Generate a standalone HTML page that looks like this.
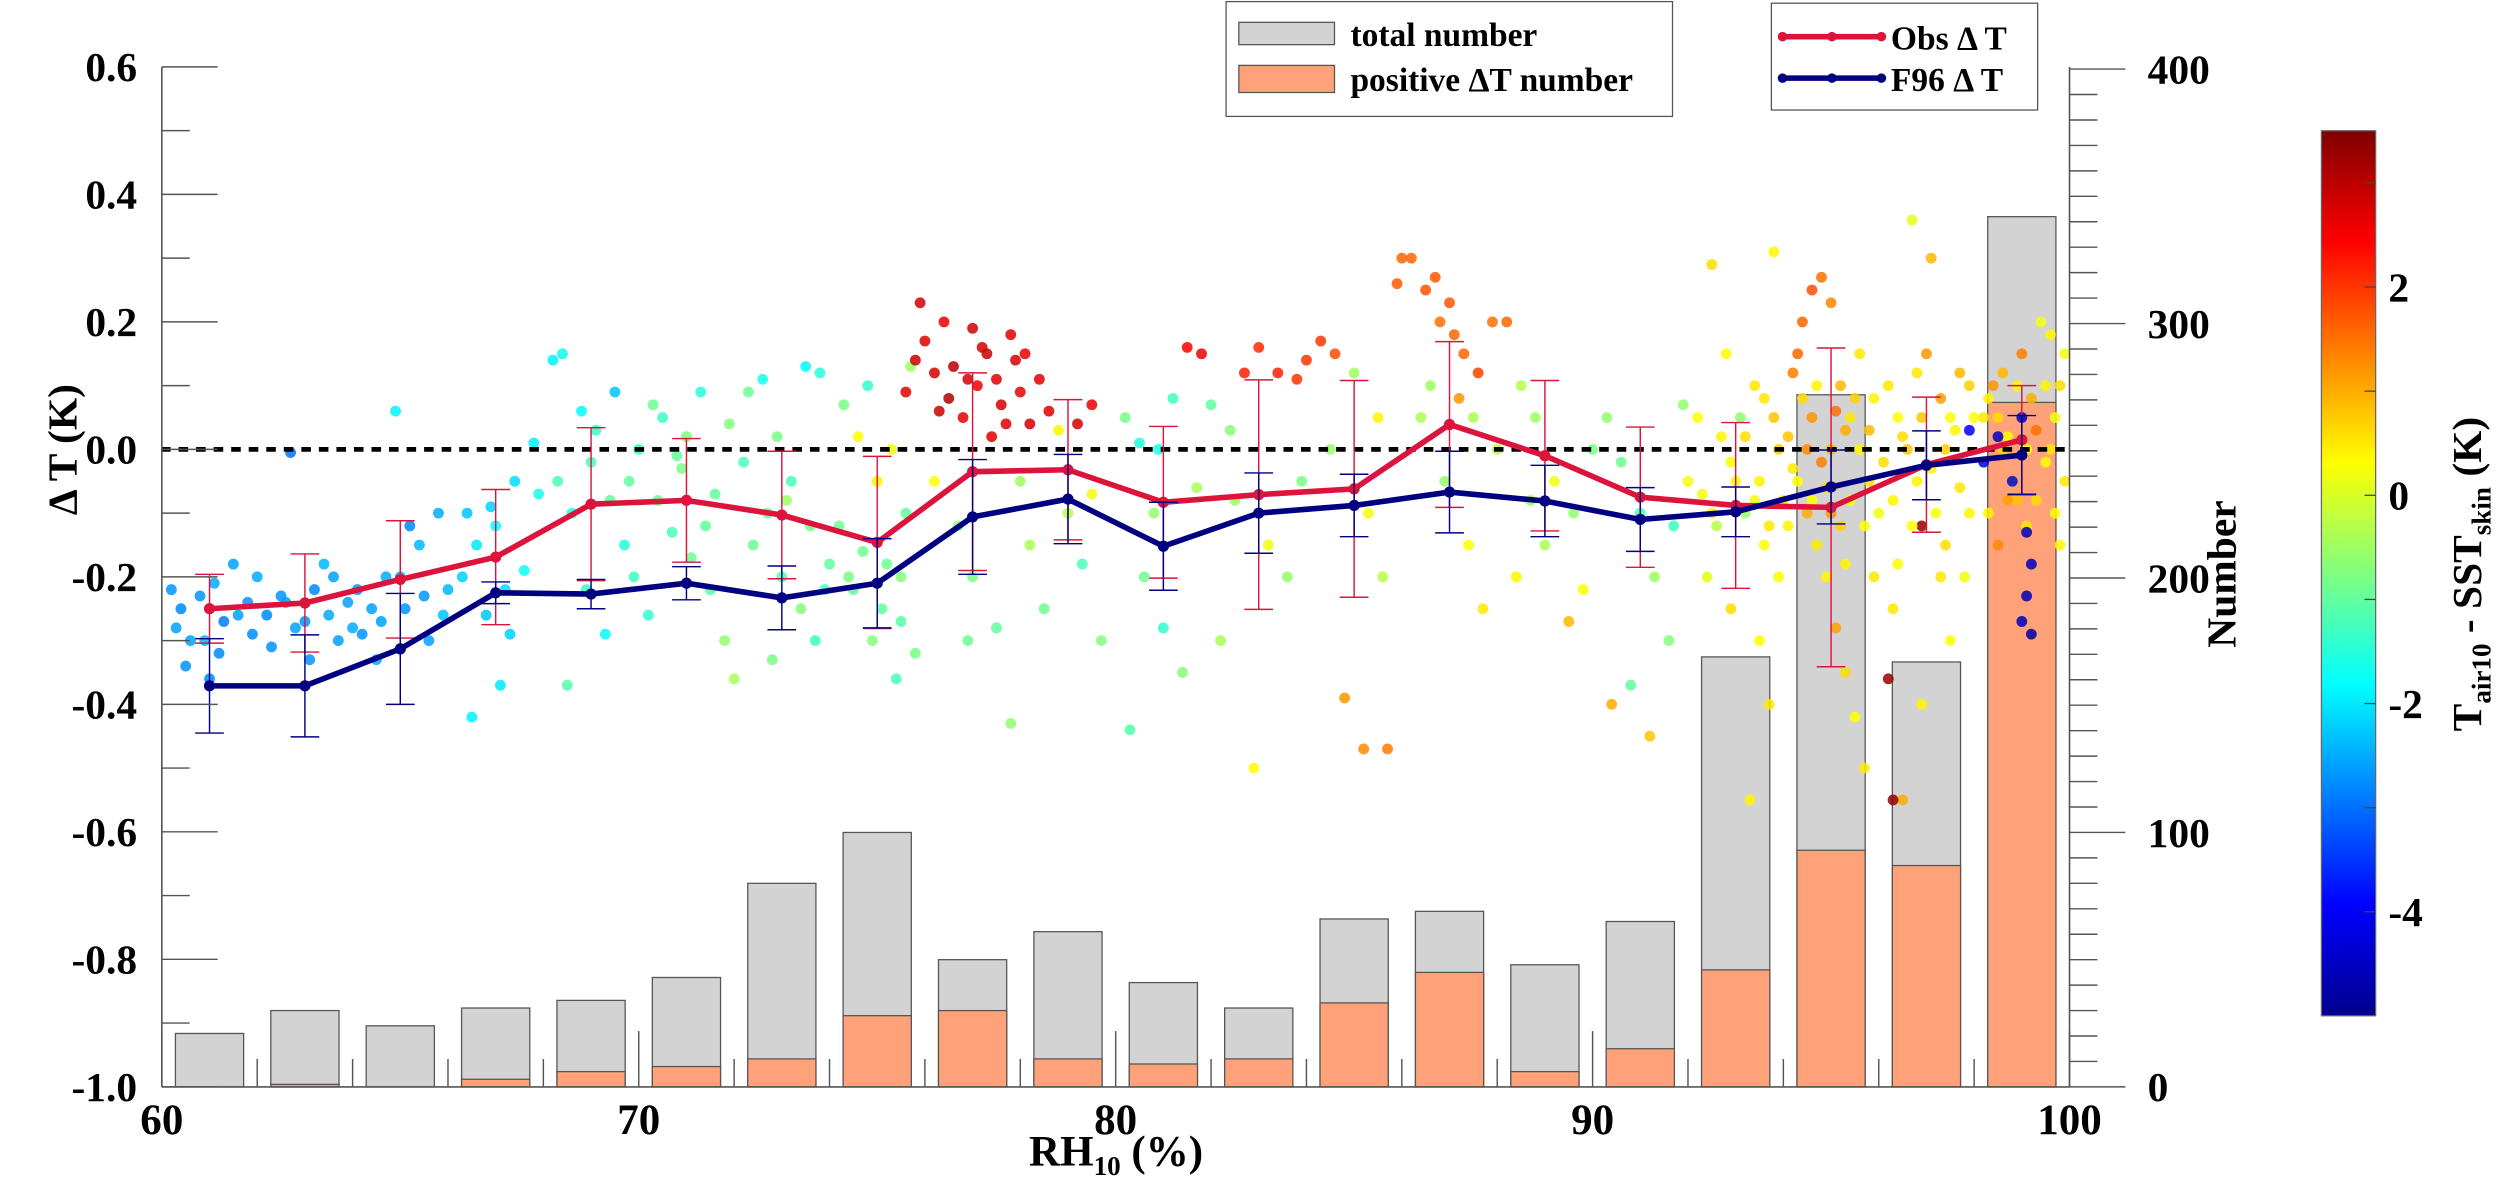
<!DOCTYPE html>
<html><head><meta charset="utf-8"><style>
html,body{margin:0;padding:0;background:#fff;}
svg{display:block;}
text{font-family:"Liberation Serif",serif;font-weight:bold;fill:#000;}
</style></head><body>
<svg id="chart" width="2500" height="1188" viewBox="0 0 1568 745" preserveAspectRatio="none" xmlns="http://www.w3.org/2000/svg">
<defs>
<linearGradient id="jet" x1="0" y1="1" x2="0" y2="0">
<stop offset="0" stop-color="#00008f"/><stop offset="0.125" stop-color="#0000ff"/><stop offset="0.375" stop-color="#00ffff"/><stop offset="0.625" stop-color="#ffff00"/><stop offset="0.875" stop-color="#ff0000"/><stop offset="1" stop-color="#800000"/>
</linearGradient>
</defs>
<g id="bars"></g>
<g id="scatter"></g>
<line x1="101" y1="281.8" x2="1298" y2="281.8" stroke="#000" stroke-width="3" stroke-dasharray="6,5"/>
<g id="lines"></g>
<g id="axes"></g>
<g>
<rect x="769" y="1" width="280" height="72" fill="#fff" stroke="#555" stroke-width="0.8"/>
<rect x="777" y="14" width="60" height="14" fill="#d3d3d3" stroke="#555" stroke-width="0.8"/>
<text x="847" y="29" font-size="21">total number</text>
<rect x="777" y="41" width="60" height="17" fill="#ffa27a" stroke="#555" stroke-width="0.8"/>
<text x="847" y="57" font-size="21">positive ΔT number</text>
</g>
<g>
<rect x="1111" y="2" width="167" height="67" fill="#fff" stroke="#555" stroke-width="0.8"/>
<line x1="1117" y1="23" x2="1180" y2="23" stroke="#dc143c" stroke-width="3.5"/>
<circle cx="1118" cy="23" r="3" fill="#dc143c"/><circle cx="1149" cy="23" r="3" fill="#dc143c"/><circle cx="1180" cy="23" r="3" fill="#dc143c"/>
<text x="1186" y="31" font-size="21">Obs Δ T</text>
<line x1="1117" y1="49" x2="1180" y2="49" stroke="#000080" stroke-width="3.5"/>
<circle cx="1118" cy="49" r="3" fill="#000080"/><circle cx="1149" cy="49" r="3" fill="#000080"/><circle cx="1180" cy="49" r="3" fill="#000080"/>
<text x="1186" y="57" font-size="21">F96 Δ T</text>
</g>
<g id="colorbar">
<rect x="1456" y="82" width="34" height="555" fill="url(#jet)" stroke="#666" stroke-width="0.8"/>
</g>
<text transform="translate(1556,360) rotate(-90)" text-anchor="middle" font-size="26">T<tspan font-size="17" dy="6">air10</tspan><tspan dy="-6"> - SST</tspan><tspan font-size="17" dy="6">skin</tspan><tspan dy="-6"> (K)</tspan></text>
<text transform="translate(48,282) rotate(-90)" text-anchor="middle" font-size="26">Δ T (K)</text>
<text transform="translate(1402,360) rotate(-90)" text-anchor="middle" font-size="26">Number</text>
<text x="700" y="731" text-anchor="middle" font-size="27">RH<tspan font-size="17" dy="6">10</tspan><tspan dy="-6"> (%)</tspan></text>
</svg>
<script>
const binRH=[61,63,65,67,69,71,73,75,77,79,81,83,85,87,89,91,93,95,97,99];
const totalCount=[21,30,24,31,34,43,80,100,50,61,41,31,66,69,48,65,169,272,167,342];
const positiveCount=[0,1,0,3,6,8,11,28,30,11,9,11,33,45,6,15,46,93,87,269];
const obsDT=[-0.250,-0.241,-0.204,-0.169,-0.086,-0.080,-0.103,-0.146,-0.035,-0.032,-0.083,-0.071,-0.062,0.039,-0.010,-0.075,-0.088,-0.091,-0.024,0.015];
const obsErr=[0.054,0.077,0.092,0.106,0.12,0.097,0.10,0.135,0.155,0.11,0.119,0.18,0.17,0.13,0.118,0.11,0.13,0.25,0.106,0.085];
const f96DT=[-0.371,-0.371,-0.313,-0.225,-0.227,-0.210,-0.233,-0.210,-0.106,-0.078,-0.152,-0.100,-0.088,-0.067,-0.081,-0.110,-0.098,-0.059,-0.025,-0.009];
const f96Err=[0.074,0.08,0.087,0.017,0.023,0.026,0.05,0.07,0.09,0.07,0.069,0.063,0.049,0.064,0.056,0.05,0.039,0.058,0.054,0.062];
const yTicks=[0.6,0.4,0.2,0.0,-0.2,-0.4,-0.6,-0.8,-1.0];
const yTickLabels=["0.6","0.4","0.2","0.0","-0.2","-0.4","-0.6","-0.8","-1.0"];
const y2Ticks=[0,100,200,300,400];
const xTicks=[60,70,80,90,100];
const cbTicks=[2,0,-2,-4];
const scatterPts=[
[60.2,-0.22,-2.7],[60.4,-0.25,-2.8],[60.6,-0.3,-2.6],[60.5,-0.34,-2.7],[61.3,-0.27,-2.9],[61.6,-0.26,-2.6],[61.8,-0.24,-2.7],[62,-0.2,-2.5],[61.2,-0.32,-2.8],[60.9,-0.3,-2.4],[61.5,-0.18,-2.6],[61,-0.36,-2.8],
[60.3,-0.28,-2.6],[60.8,-0.23,-2.7],[61.1,-0.21,-2.5],[61.9,-0.29,-2.8],
[62.5,-0.23,-2.7],[62.8,-0.28,-2.6],[63.2,-0.22,-2.8],[63.5,-0.26,-2.5],[63.7,-0.3,-2.6],[62.3,-0.31,-2.7],[63.4,-0.18,-2.4],[63.9,-0.24,-2.6],[62.7,-0.005,-3.0],[63.1,-0.33,-2.7],[64,-0.28,-2.5],[62.2,-0.26,-2.8],
[62.6,-0.24,-2.6],[63.0,-0.27,-2.7],[63.6,-0.2,-2.6],[64.1,-0.22,-2.7],
[64.4,-0.25,-2.6],[64.7,-0.2,-2.5],[65.1,-0.25,-2.7],[65.4,-0.15,-2.4],[65.8,-0.1,-2.5],[64.9,0.06,-1.9],[65.6,-0.3,-2.6],[64.2,-0.29,-2.7],[66,-0.22,-2.4],[65.2,-0.12,-2.8],[64.5,-0.33,-2.5],[65.9,-0.26,-2.3],
[64.6,-0.27,-2.6],[65.0,-0.2,-2.5],[65.5,-0.23,-2.7],
[66.3,-0.2,-2.2],[66.6,-0.15,-2.0],[67,-0.12,-1.8],[67.4,-0.05,-2.1],[67.8,0.01,-1.9],[66.8,-0.26,-2.3],[67.3,-0.29,-2.2],[67.6,-0.19,-1.7],[66.5,-0.42,-1.9],[67.1,-0.37,-2.0],[67.9,-0.07,-1.6],[66.9,-0.09,-2.2],
[66.4,-0.1,-2.3],[67.2,-0.22,-2.1],
[68.2,0.14,-1.9],[68.4,0.15,-1.7],[68.8,0.06,-1.8],[69.1,0.03,-1.4],[69.5,0.09,-2.3],[68.6,-0.1,-1.6],[69,-0.02,-1.2],[69.7,-0.15,-1.5],[68.9,-0.22,-1.3],[69.3,-0.29,-1.8],[68.5,-0.37,-1.1],[69.8,-0.05,-1.0],[70,0.0,-1.4],
[68.3,-0.05,-1.2],[69.4,-0.08,-1.0],[69.9,-0.2,-1.3],
[70.3,0.07,-0.9],[70.5,0.05,-1.3],[70.9,-0.03,-0.8],[71.3,0.09,-1.5],[71.6,-0.07,-1.0],[71.9,0.04,-0.7],[70.7,-0.13,-1.2],[71.1,-0.17,-0.9],[71.5,-0.22,-1.1],[70.2,-0.26,-1.4],[71.8,-0.3,-0.6],[72,-0.36,-0.4],[70.8,-0.01,-1.0],
[70.4,-0.08,-0.9],[71.4,-0.12,-1.0],[71.0,0.02,-0.8],
[72.3,0.09,-0.9],[72.6,0.11,-1.6],[72.9,0.02,-0.8],[73.2,-0.05,-1.2],[73.5,0.13,-1.8],[73.8,0.12,-1.5],[72.4,-0.15,-0.9],[73,-0.2,-1.1],[73.4,-0.25,-0.7],[73.7,-0.3,-1.3],[72.8,-0.33,-0.8],[74,-0.18,-1.0],[73.1,-0.08,-0.5],[72.2,-0.02,-1.2],
[72.7,-0.1,-1.0],[73.6,-0.12,-0.9],[73.9,-0.22,-1.2],
[74.3,0.07,-0.8],[74.6,0.02,0.3],[75,-0.05,0.4],[75.2,-0.18,-0.9],[75.5,-0.27,-1.1],[75.8,-0.32,-0.8],[74.5,-0.22,-1.0],[74.9,-0.3,-0.7],[75.4,-0.36,-1.2],[75.7,0.13,-0.5],[74.8,0.1,-1.4],[75.9,0.23,2.8],[75.3,0.0,0.2],[74.2,-0.12,-0.9],[75.6,-0.1,-1.0],
[74.4,-0.2,-0.8],[75.1,-0.25,-1.0],[75.5,-0.2,-0.7],[74.7,-0.16,-0.9],
[75.6,0.09,2.7],[75.8,0.14,2.9],[76.0,0.17,2.7],[76.2,0.12,2.8],[76.4,0.2,2.6],[76.6,0.13,3.0],[76.8,0.05,2.7],[77.0,0.19,2.8],[77.1,0.1,2.6],[77.3,0.15,2.9],[77.5,0.11,2.7],[77.6,0.07,2.8],[77.8,0.18,2.7],[78.0,0.09,2.6],[78.2,0.04,2.8],[77.4,0.02,2.7],[76.5,0.08,3.1],[77.9,0.14,2.8],[78.6,0.06,2.7],[79.2,0.04,2.8],[79.5,0.07,2.6],[76.3,0.06,2.9],[77.2,0.16,2.8],[78.4,0.11,2.7],
[76.9,0.11,2.8],[77.7,0.04,2.7],[78.1,0.15,2.6],
[76.2,-0.05,0.3],[76.7,-0.12,-0.6],[77,-0.2,-0.8],[77.5,-0.28,-1.0],[77.8,-0.43,-0.6],[78.2,-0.15,-0.4],[78.5,-0.25,-0.9],[79,-0.1,-0.3],[79.3,-0.18,-1.2],[79.7,-0.3,-0.7],[78.8,0.03,0.4],[76.9,-0.3,-0.9],[78,-0.05,-0.5],[79.5,-0.07,0.2],
[80.2,0.05,-0.8],[80.5,0.01,-1.5],[80.8,-0.1,-0.6],[81.2,0.08,-1.3],[81.5,0.16,2.5],[81.8,0.15,2.6],[80.6,-0.2,-0.9],[81,-0.28,-1.4],[81.4,-0.35,-0.7],[80.3,-0.44,-1.1],[81.7,-0.06,-0.4],[82,0.07,-1.0],[80.9,0.0,-1.6],
[82.4,0.03,-0.7],[82.7,0.12,2.2],[83,0.16,2.1],[83.4,0.12,2.2],[83.8,0.11,2.0],[82.5,-0.08,-0.5],[83.2,-0.15,0.2],[83.6,-0.2,-0.6],[82.9,-0.5,0.3],[83.9,-0.05,-0.8],[84,0.14,2.0],[82.2,-0.3,-0.4],
[84.3,0.17,2.0],[84.6,0.15,1.8],[85,0.12,-0.5],[85.3,-0.1,0.2],[85.6,-0.2,-0.3],[85.9,0.26,1.7],[84.8,-0.39,1.2],[85.2,-0.47,1.3],[85.7,-0.47,1.4],[84.5,0.0,-0.6],[85.5,0.05,0.4],[86,0.3,1.6],
[86.2,0.3,1.6],[86.5,0.25,1.8],[86.8,0.2,1.5],[87,0.23,1.7],[87.3,0.15,1.6],[87.6,0.12,1.9],[87.9,0.2,1.5],[86.4,0.05,-0.4],[86.9,-0.05,-0.6],[87.4,-0.15,0.3],[87.7,-0.25,0.5],[88,0.0,-0.3],[86.6,0.1,-0.5],[87.2,0.08,1.2],
[86.7,0.27,1.7],[87.1,0.18,1.6],[87.5,0.05,-0.4],
[88.2,0.2,1.6],[88.5,0.1,-0.3],[88.8,0.05,-0.5],[89.2,-0.05,0.2],[89.6,-0.1,-0.6],[88.4,-0.2,0.4],[89,-0.15,-0.4],[89.5,-0.27,0.9],[89.8,-0.22,0.3],[90,0.0,-0.8],[88.7,-0.08,-0.5],
[90.3,0.05,-0.6],[90.6,-0.02,-0.9],[91,-0.1,-1.2],[91.3,-0.2,-0.5],[91.6,-0.3,-0.7],[91.9,0.07,-0.6],[90.8,-0.37,-1.0],[91.2,-0.45,0.8],[90.4,-0.4,1.0],[91.7,-0.12,-1.3],[92,-0.05,0.2],
[92.2,0.05,0.3],[92.5,0.29,0.6],[92.7,0.02,0.4],[93,-0.05,0.2],[93.2,-0.1,-0.5],[93.4,0.1,0.5],[93.6,-0.15,0.3],[93.8,0.31,0.4],[92.4,-0.2,0.1],[92.9,-0.25,0.6],[93.5,-0.3,0.3],[93.7,-0.4,0.5],[92.6,-0.12,-0.3],[93.9,0.0,0.7],[92.8,0.15,0.3],[93.3,-0.55,0.4],[93.1,0.05,-0.6],[92.3,-0.07,0.2],[93.6,0.08,0.5],[94,-0.08,0.4],
[92.5,-0.1,0.4],[92.9,-0.02,0.3],[93.2,0.02,0.6],[93.4,-0.08,0.2],[93.7,-0.12,0.5],[93.9,-0.2,0.3],[93.8,0.05,0.8],[93.5,-0.05,0.4],
[94.2,0.12,1.4],[94.4,0.2,1.6],[94.6,0.25,1.8],[94.8,0.27,1.5],[95,0.23,1.3],[95.2,0.1,0.9],[95.4,0.05,0.5],[95.6,0.0,0.4],[95.8,-0.05,0.6],[94.3,-0.05,0.3],[94.5,-0.1,1.0],[94.7,-0.15,0.5],[94.9,-0.2,0.4],[95.1,-0.28,1.1],[95.3,-0.35,0.6],[95.5,-0.42,0.3],[95.7,-0.5,0.5],[94.1,0.02,0.8],[94.6,0.05,1.2],[95,0.0,0.9],[95.4,-0.08,0.3],[95.9,0.08,0.4],[94.8,-0.02,1.4],[95.2,-0.12,0.7],[96,-0.1,0.2],[95.6,0.15,0.5],[94.4,0.08,0.6],[95.3,0.03,1.0],
[94.2,-0.03,0.5],[94.5,0.0,1.3],[94.7,0.1,0.4],[94.9,-0.06,0.6],[95.1,0.06,1.5],[95.3,-0.18,0.4],[95.5,0.08,0.7],[95.7,-0.12,0.3],[95.9,-0.2,0.5],[94.3,0.15,1.6],[94.6,-0.08,0.3],[95.0,-0.1,1.2],[95.8,0.03,0.9],[94.1,-0.12,0.4],
[96.2,0.1,0.5],[96.4,0.05,0.3],[96.6,0.0,0.8],[96.8,-0.05,0.4],[97,0.15,1.2],[97.2,-0.1,0.3],[97.4,-0.15,0.6],[97.6,0.03,0.4],[97.8,-0.2,0.2],[96.3,-0.25,0.5],[96.5,-0.55,1.0],[96.7,0.36,0.1],[97.1,0.3,0.9],[97.5,-0.3,0.3],[97.9,0.1,0.7],[96.9,-0.4,0.4],[96.1,-0.02,0.6],[97.3,0.08,1.1],[97.7,-0.06,0.5],[98,0.05,0.3],[96.2,-0.36,3.3],[96.3,-0.55,3.3],[96.9,-0.12,3.3],
[96.3,-0.08,0.4],[96.5,0.02,0.6],[96.7,-0.12,0.3],[96.9,0.05,0.8],[97.1,-0.03,0.4],[97.3,-0.2,0.5],[97.5,0.05,0.3],[97.7,0.12,0.9],[97.9,-0.1,0.4],[96.4,-0.18,0.3],[96.8,0.12,0.5],[97.4,0.0,0.7],
[98.2,0.05,0.5],[98.4,0.1,1.2],[98.6,0.0,0.6],[98.8,-0.05,0.3],[99,0.15,1.4],[99.2,0.08,1.0],[99.4,0.2,0.2],[99.6,0.18,0.4],[99.8,0.1,0.6],[98.3,-0.1,0.4],[98.5,-0.15,1.3],[98.7,0.02,0.3],[98.9,-0.08,0.8],[99.1,-0.12,0.5],[99.3,0.03,1.5],[99.5,-0.02,0.3],[99.7,0.05,0.2],[99.9,-0.05,0.5],
[98.3,0.08,0.4],[98.5,0.05,0.6],[98.7,-0.08,1.1],[98.9,0.1,0.4],[99.1,0.0,0.3],[99.3,-0.08,0.6],[99.5,0.1,0.4],[99.7,-0.1,0.3],[99.9,0.15,0.2],[99.6,0.0,0.5],[99.8,-0.15,0.4],[98.6,0.12,0.9],
[98.5,0.02,-4.5],[99.0,0.05,-4.4],[99.1,-0.13,-4.6],[99.2,-0.18,-4.5],[99.1,-0.23,-4.6],[99.0,-0.27,-4.5],[99.2,-0.29,-4.7],[98.8,-0.05,-4.3],[97.9,0.03,-4.0],[98.2,-0.02,-4.2]
];

const NS='http://www.w3.org/2000/svg';
const X0=101.5,X1=1298,Y0=281.8,YU=399.75,YB=681.6,CNT=1.5957;
function xs(v){return X0+(v-60)*(X1-X0)/40;}
function ys(v){return Y0-v*YU;}
function yc(n){return YB-n*CNT;}
function cbY(v){return 180-(v-2)*65.3;}
function jet(v){const t=Math.max(0,Math.min(1,(v+5)/8.5));const f=a=>Math.round(255*Math.max(0,Math.min(1,1.5-Math.abs(4*t-a))));return `rgb(${f(3)},${f(2)},${f(1)})`;}
function mk(tag,attrs,parent){const e=document.createElementNS(NS,tag);for(const k in attrs)e.setAttribute(k,attrs[k]);parent.appendChild(e);return e;}

const gb=document.getElementById('bars');
const bw=xs(61.43)-xs(60);
binRH.forEach((r,i)=>{
  const t=mk('rect',{x:xs(r)-bw/2,y:yc(totalCount[i]),width:bw,height:totalCount[i]*CNT,fill:'#d3d3d3',stroke:'#555','stroke-width':0.8},gb);
  
  
  if(positiveCount[i]>0){
    const p=mk('rect',{x:xs(r)-bw/2,y:yc(positiveCount[i]),width:bw,height:positiveCount[i]*CNT,fill:'#ffa27a',stroke:'#555','stroke-width':0.8},gb);
    
    
  }
});

const gs=document.getElementById('scatter');
scatterPts.forEach(p=>{
  const c=mk('circle',{cx:xs(p[0]),cy:ys(p[1]),r:3.4,fill:jet(p[2]),'fill-opacity':0.85},gs);
  
  
});

const gl=document.getElementById('lines');
function series(vals,errs,col,name){
  binRH.forEach((r,i)=>{
    const x=xs(r),y1=ys(vals[i]+errs[i]),y2=ys(vals[i]-errs[i]);
    const e=mk('path',{d:`M${x-9},${y1}H${x+9}M${x},${y1}V${y2}M${x-9},${y2}H${x+9}`,stroke:col,'stroke-width':0.9,fill:'none'},gl);
    
    
  });
  const l=mk('polyline',{points:binRH.map((r,i)=>xs(r)+','+ys(vals[i])).join(' '),stroke:col,'stroke-width':3.5,fill:'none'},gl);
  
  
  binRH.forEach((r,i)=>{
    const m=mk('circle',{cx:xs(r),cy:ys(vals[i]),r:3.5,fill:col},gl);
    
    
  });
}
series(obsDT,obsErr,'#dc143c','obs');
series(f96DT,f96Err,'#000080','f96');

const ga=document.getElementById('axes');
mk('line',{x1:X0,y1:42,x2:X0,y2:YB,stroke:'#555','stroke-width':1},ga);
mk('line',{x1:X1,y1:42,x2:X1,y2:YB,stroke:'#555','stroke-width':1},ga);
mk('line',{x1:X0,y1:YB,x2:X1,y2:YB,stroke:'#555','stroke-width':1},ga);
for(let k=0;k<=16;k++){const v=0.6-k*0.1;const y=ys(v);mk('line',{x1:X0,y1:y,x2:X0+(k%2==0?35:17.5),y2:y,stroke:'#555','stroke-width':0.9},ga);}
yTicks.forEach((v,i)=>{const t=mk('text',{x:86,y:ys(v)+9,'text-anchor':'end','font-size':26},ga);t.textContent=yTickLabels[i];});
for(let n=0;n<=400;n+=10){const y=yc(n);mk('line',{x1:X1,y1:y,x2:X1+(n%100==0?35:17.5),y2:y,stroke:'#555','stroke-width':0.9},ga);}
y2Ticks.forEach(v=>{const t=mk('text',{x:1347,y:yc(v)+9,'font-size':26},ga);t.textContent=String(v);});
for(let r=60;r<=100;r+=2){const x=xs(r);mk('line',{x1:x,y1:YB,x2:x,y2:YB-(r%10==0?35:17.5),stroke:'#555','stroke-width':0.9},ga);}
xTicks.forEach(v=>{const t=mk('text',{x:xs(v),y:711,'text-anchor':'middle','font-size':27},ga);t.textContent=String(v);});

const gc=document.getElementById('colorbar');
for(let v=3;v>=-5;v--){const y=cbY(v);if(y>82&&y<637)mk('line',{x1:1483,y1:y,x2:1490,y2:y,stroke:'#444','stroke-width':0.8},gc);}
cbTicks.forEach(v=>{const t=mk('text',{x:1498,y:cbY(v)+9,'font-size':26},gc);t.textContent=String(v);});
</script>
</body></html>
